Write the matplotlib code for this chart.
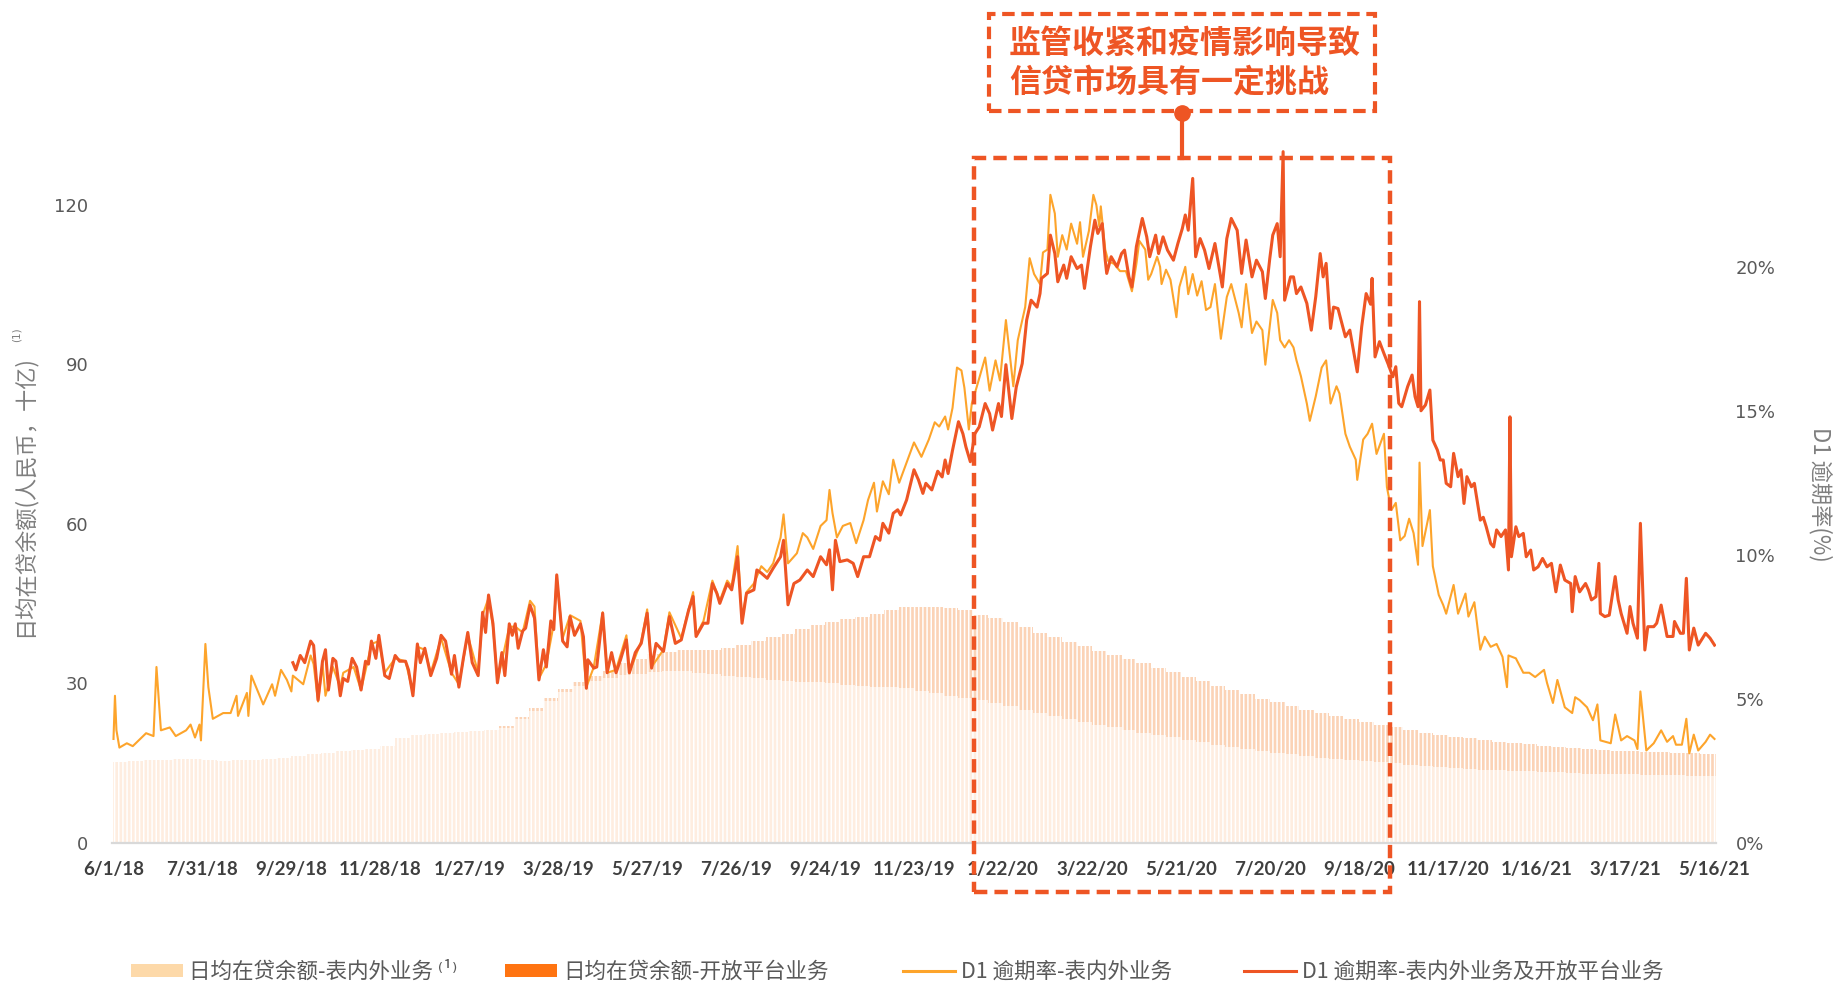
import numpy as np
import pandas as pd
import matplotlib
matplotlib.use("Agg")
import matplotlib.pyplot as plt
from matplotlib.patches import Rectangle, Patch
from matplotlib.lines import Line2D

CJK = ["Noto Sans CJK SC", "DejaVu Sans"]
plt.rcParams["font.family"] = CJK
plt.rcParams["hatch.linewidth"] = 1.1

START = pd.Timestamp("2018-06-01")

# x tick labels (every 60 days)
tick_labels = ["6/1/18", "7/31/18", "9/29/18", "11/28/18", "1/27/19", "3/28/19",
               "5/27/19", "7/26/19", "9/24/19", "11/23/19", "1/22/20", "3/22/20",
               "5/21/20", "7/20/20", "9/18/20", "11/17/20", "1/16/21", "3/17/21",
               "5/16/21"]

# daily average loan balance, RMB bn, read every 10 days from 6/1/18
bal_step = 10
bal_onbs = [15.2, 15.3, 15.5, 15.6, 15.8, 15.7, 15.5, 15.4, 15.5, 15.6,
            15.8, 16.0, 16.3, 16.6, 16.9, 17.2, 17.4, 17.7, 18.2, 19.6,
            20.2, 20.5, 20.7, 20.9, 21.0, 21.1, 21.5, 23.2, 24.8, 26.6,
            28.3, 29.5, 30.4, 31.0, 31.5, 31.8, 32.1, 32.2, 32.2, 32.0,
            31.7, 31.4, 31.2, 30.9, 30.6, 30.4, 30.3, 30.2, 30.0, 29.7,
            29.5, 29.3, 29.2, 29.0, 28.5, 28.1, 27.6, 27.2, 26.8, 26.3,
            25.7, 25.0, 24.3, 23.8, 23.2, 22.7, 22.2, 21.7, 21.2, 20.7,
            20.3, 19.8, 19.3, 18.9, 18.4, 18.0, 17.6, 17.2, 16.9, 16.6,
            16.3, 16.0, 15.8, 15.5, 15.3, 15.1, 14.9, 14.6, 14.4, 14.2,
            14.0, 13.9, 13.7, 13.6, 13.5, 13.4, 13.3, 13.2, 13.1, 13.0,
            13.0, 12.9, 12.9, 12.8, 12.8, 12.7, 12.6, 12.5, 12.5]
bal_open = [0, 0, 0, 0, 0, 0, 0, 0, 0, 0,
            0, 0, 0, 0, 0, 0, 0, 0, 0, 0,
            0, 0, 0, 0, 0, 0, 0.4, 0.5, 0.5, 0.6,
            0.6, 0.7, 0.9, 1.3, 2.2, 2.8, 3.3, 3.6, 4.0, 4.3,
            4.6, 5.3, 6.0, 7.0, 8.0, 8.8, 9.8, 10.8, 11.5, 12.4,
            12.9, 13.8, 14.6, 15.3, 15.9, 16.3, 16.6, 16.6, 16.0, 15.9,
            15.8, 15.6, 15.2, 14.8, 14.5, 14.2, 13.9, 13.6, 13.3, 13.0,
            12.6, 12.3, 11.9, 11.5, 11.1, 10.7, 10.3, 9.9, 9.5, 9.1,
            8.7, 8.3, 8.0, 7.7, 7.4, 7.1, 6.8, 6.6, 6.3, 6.1,
            5.9, 5.8, 5.6, 5.4, 5.2, 5.1, 4.9, 4.8, 4.7, 4.6,
            4.5, 4.4, 4.3, 4.2, 4.2, 4.2, 4.2, 4.2, 4.2]

# D1 delinquency rate (%), (days since 6/1/18, value)
d1_onbs_pts = [
    (0, 3.6), (1, 5.1), (2, 3.9), (4, 3.3), (9, 3.45), (13, 3.35), (18, 3.6), (22, 3.8),
    (27, 3.7), (29, 6.1), (32, 3.9), (38, 4.0), (42, 3.7), (49, 3.9), (52, 4.1), (55, 3.65),
    (58, 4.1), (59, 3.55), (62, 6.9), (64, 5.4), (67, 4.3), (74, 4.5), (79, 4.5), (83, 5.1),
    (84, 4.4), (90, 5.2), (91, 4.4), (93, 5.8), (97, 5.3), (101, 4.8), (107, 5.5), (109, 5.1),
    (113, 6.0), (117, 5.65), (120, 5.25), (121, 5.8), (128, 5.5), (133, 6.5), (135, 6.2),
    (138, 4.9), (141, 6.2), (143, 5.1), (148, 6.1), (153, 5.4), (155, 5.9), (162, 6.1),
    (167, 5.3), (171, 6.2), (174, 6.9), (179, 7.0), (183, 5.9), (190, 6.4), (197, 6.3),
    (202, 5.2), (205, 6.8), (210, 6.7), (214, 5.9), (221, 7.1), (228, 5.9), (233, 5.5),
    (239, 7.2), (246, 5.9), (249, 7.9), (253, 8.5), (256, 7.5), (259, 5.6), (267, 7.5),
    (271, 7.5), (276, 7.3), (281, 8.4), (284, 8.2), (287, 5.7), (292, 6.2), (297, 7.6),
    (299, 9.2), (303, 7.1), (308, 7.9), (315, 7.7), (319, 5.4), (324, 6.1), (330, 8.0),
    (333, 5.9), (339, 6.0), (346, 7.2), (348, 5.9), (356, 7.0), (360, 8.1), (363, 6.1),
    (371, 6.7), (375, 8.0), (383, 7.1), (391, 8.7), (393, 7.2), (398, 7.7), (404, 9.1),
    (409, 8.4), (414, 9.1), (417, 8.9), (421, 10.3), (424, 7.7), (427, 8.7), (432, 9.0),
    (437, 9.6), (441, 9.4), (445, 9.7), (450, 10.6), (452, 11.4), (455, 9.7), (461, 10.05),
    (465, 10.75), (468, 10.6), (472, 10.2), (477, 11.0), (481, 11.2), (483, 12.25),
    (485, 11.45), (488, 10.6), (492, 11.0), (497, 11.1), (501, 10.4), (506, 11.2),
    (509, 11.9), (513, 12.5), (515, 11.5), (519, 12.55), (523, 12.1), (526, 13.3),
    (530, 12.5), (535, 13.2), (540, 13.9), (545, 13.4), (550, 14.0), (554, 14.6),
    (557, 14.45), (561, 14.8), (563, 14.35), (566, 15.1), (569, 16.5), (572, 16.4),
    (574, 15.8), (577, 14.35), (579, 15.25), (583, 15.95), (588, 16.85), (591, 15.7),
    (595, 16.75), (598, 16.05), (602, 18.15), (605, 16.75), (607, 15.85), (610, 17.45),
    (615, 18.6), (618, 20.3), (621, 19.75), (625, 19.4), (627, 20.5), (630, 20.6),
    (632, 22.5), (635, 21.85), (637, 20.35), (640, 21.1), (643, 20.6), (646, 21.5),
    (650, 20.8), (652, 21.55), (654, 20.35), (658, 21.25), (661, 22.5), (663, 22.15),
    (665, 21.4), (666, 22.1), (669, 20.6), (671, 20.2), (675, 20.1), (679, 19.85),
    (683, 19.85), (687, 19.15), (690, 20.1), (692, 20.9), (696, 20.6), (698, 19.55),
    (700, 19.75), (704, 20.35), (706, 20.0), (707, 19.4), (710, 19.9), (713, 19.55),
    (717, 18.25), (719, 19.3), (723, 20.0), (725, 19.05), (728, 19.75), (731, 19.0),
    (734, 19.5), (737, 18.5), (740, 18.6), (743, 19.4), (747, 17.5), (751, 18.95),
    (754, 19.4), (759, 18.4), (761, 17.9), (764, 19.4), (768, 17.7), (771, 18.1),
    (775, 17.8), (777, 16.6), (782, 18.85), (785, 18.4), (787, 17.45), (790, 17.2),
    (793, 17.45), (796, 17.2), (798, 16.75), (801, 16.2), (805, 15.25), (807, 14.65),
    (811, 15.5), (815, 16.5), (818, 16.75), (821, 15.25), (825, 15.85), (827, 15.6),
    (831, 14.2), (834, 13.75), (838, 13.3), (839, 12.6), (843, 14.0), (846, 14.2),
    (849, 14.55), (852, 13.5), (857, 14.2), (859, 12.35), (862, 11.55), (865, 11.8),
    (868, 10.5), (871, 10.65), (874, 11.25), (877, 10.75), (880, 9.65), (881, 13.2),
    (883, 10.3), (888, 11.55), (890, 9.6), (894, 8.6), (897, 8.25), (899, 7.95),
    (904, 8.95), (907, 7.95), (912, 8.65), (914, 7.85), (918, 8.35), (922, 6.7),
    (925, 7.15), (929, 6.8), (933, 6.9), (937, 6.45), (940, 5.4), (941, 6.5), (946, 6.4),
    (951, 5.9), (955, 5.9), (959, 5.75), (965, 6.0), (967, 5.55), (971, 4.85), (974, 5.65),
    (979, 4.7), (984, 4.5), (986, 5.05), (989, 4.95), (994, 4.7), (998, 4.25), (1001, 4.8),
    (1003, 3.55), (1010, 3.45), (1013, 4.45), (1017, 3.55), (1021, 3.7), (1026, 3.55),
    (1028, 3.25), (1030, 5.25), (1034, 3.2), (1039, 3.45), (1044, 3.9), (1048, 3.5),
    (1052, 3.7), (1054, 3.4), (1058, 3.4), (1061, 4.3), (1063, 3.1), (1066, 3.75),
    (1069, 3.2), (1074, 3.5), (1077, 3.75), (1080, 3.6)]

d1_all_pts = [
    (121, 6.25), (123, 6.0), (126, 6.5), (129, 6.25), (133, 7.0), (135, 6.85), (138, 4.95),
    (141, 6.3), (143, 6.7), (145, 5.3), (148, 6.4), (150, 6.3), (153, 5.1), (155, 5.7),
    (158, 5.6), (161, 6.4), (164, 6.1), (167, 5.3), (170, 6.3), (172, 6.2), (174, 7.0),
    (177, 6.4), (179, 7.2), (183, 5.8), (186, 5.7), (190, 6.5), (193, 6.3), (197, 6.3),
    (199, 6.0), (202, 5.1), (205, 6.9), (207, 6.25), (210, 6.75), (214, 5.8), (218, 6.4),
    (221, 7.2), (224, 7.0), (228, 5.85), (230, 6.5), (233, 5.4), (236, 6.4), (239, 7.3),
    (242, 6.25), (246, 5.8), (249, 8.0), (251, 7.3), (253, 8.6), (256, 7.6), (259, 5.55),
    (262, 6.6), (264, 5.8), (267, 7.6), (269, 7.2), (271, 7.6), (273, 6.75), (276, 7.35),
    (278, 7.45), (281, 8.25), (284, 7.8), (287, 5.65), (290, 6.7), (292, 6.1), (295, 7.7),
    (297, 7.4), (299, 9.3), (303, 7.0), (306, 6.8), (308, 7.85), (311, 7.2), (315, 7.6),
    (317, 7.15), (319, 5.36), (320, 6.35), (324, 6.06), (326, 6.1), (330, 7.97), (333, 5.9),
    (336, 6.6), (339, 5.9), (342, 6.35), (346, 7.04), (348, 5.9), (352, 6.6), (356, 6.92),
    (360, 7.97), (363, 6.06), (366, 6.92), (371, 6.64), (375, 7.85), (379, 6.92),
    (383, 7.04), (388, 8.08), (391, 8.55), (393, 7.16), (398, 7.62), (401, 7.62), (404, 9.0),
    (407, 8.66), (409, 8.31), (414, 9.0), (417, 8.78), (421, 9.93), (424, 7.62), (427, 8.66),
    (432, 8.78), (434, 9.47), (437, 9.36), (441, 9.18), (445, 9.53), (450, 9.93), (452, 10.5),
    (455, 8.26), (459, 9.0), (463, 9.12), (468, 9.47), (472, 9.24), (477, 9.93), (481, 9.65),
    (483, 10.17), (485, 8.78), (487, 10.5), (490, 9.76), (495, 9.82), (499, 9.7), (502, 9.24),
    (506, 9.93), (510, 9.93), (514, 10.63), (517, 10.5), (519, 11.09), (523, 10.75),
    (526, 11.44), (529, 11.56), (531, 11.38), (535, 11.9), (540, 12.95), (543, 12.6),
    (546, 12.13), (548, 12.48), (552, 12.25), (556, 12.9), (559, 12.7), (561, 13.29),
    (563, 12.82), (566, 13.63), (570, 14.62), (573, 14.2), (575, 13.75), (578, 13.23),
    (581, 14.2), (584, 14.44), (588, 15.25), (591, 14.9), (593, 14.33), (597, 15.25),
    (599, 14.8), (602, 16.6), (606, 14.73), (609, 15.83), (613, 16.64), (616, 18.15),
    (619, 18.84), (623, 18.6), (625, 19.07), (626, 19.6), (630, 19.77), (632, 21.1),
    (635, 20.46), (637, 19.48), (641, 20.06), (643, 19.6), (646, 20.35), (650, 19.94),
    (653, 20.06), (655, 19.25), (659, 20.7), (662, 21.62), (664, 21.16), (667, 21.5),
    (669, 20.23), (670, 19.77), (673, 20.35), (677, 20.0), (680, 20.46), (682, 20.58),
    (685, 19.65), (687, 19.3), (690, 20.7), (694, 21.68), (697, 21.04), (699, 20.35),
    (703, 21.1), (705, 20.46), (708, 21.04), (711, 20.58), (715, 20.23), (718, 20.81),
    (721, 21.33), (723, 21.8), (725, 21.27), (728, 23.07), (730, 20.35), (733, 20.98),
    (736, 20.58), (739, 19.94), (743, 20.81), (748, 19.3), (751, 20.98), (754, 21.68),
    (758, 21.27), (761, 19.77), (764, 20.93), (768, 19.65), (771, 20.23), (775, 19.83),
    (777, 18.9), (780, 20.29), (782, 21.1), (785, 21.5), (787, 20.35), (789, 24.0),
    (790, 18.84), (794, 19.65), (796, 19.65), (798, 19.07), (801, 19.3), (805, 18.73),
    (808, 17.8), (811, 18.96), (814, 20.46), (816, 19.65), (818, 20.12), (821, 17.86),
    (823, 18.6), (826, 18.55), (831, 17.57), (834, 17.8), (839, 16.35), (842, 17.92),
    (845, 19.07), (848, 18.7), (849, 19.6), (851, 16.87), (854, 17.4), (857, 16.99),
    (860, 16.6), (863, 16.18), (865, 16.53), (867, 15.26), (869, 15.14), (871, 15.49),
    (873, 15.84), (876, 16.24), (878, 15.49), (880, 15.14), (881, 18.79), (882, 15.0),
    (885, 15.2), (888, 15.72), (890, 13.98), (893, 13.64), (895, 13.29), (897, 13.29),
    (899, 12.48), (902, 12.36), (904, 13.52), (907, 12.71), (909, 12.95), (911, 11.78),
    (913, 12.71), (916, 12.36), (918, 12.48), (922, 11.2), (924, 11.3), (926, 10.97),
    (929, 10.39), (931, 10.27), (933, 10.86), (936, 10.63), (939, 10.86), (941, 9.47),
    (942, 14.79), (943, 9.93), (946, 10.97), (948, 10.63), (951, 10.74), (953, 9.93),
    (956, 10.16), (958, 9.47), (961, 9.58), (964, 9.87), (967, 9.58), (970, 9.7),
    (973, 8.71), (976, 9.64), (979, 9.12), (983, 9.0), (984, 8.02), (986, 9.24),
    (989, 8.71), (993, 9.0), (995, 8.77), (997, 8.43), (1000, 8.54), (1002, 9.7),
    (1003, 7.96), (1006, 7.85), (1009, 7.9), (1013, 9.24), (1015, 8.43), (1017, 7.96),
    (1021, 7.27), (1023, 8.2), (1025, 7.62), (1028, 7.1), (1030, 11.09), (1033, 6.69),
    (1035, 7.5), (1039, 7.5), (1041, 7.62), (1044, 8.25), (1048, 7.16), (1052, 7.16),
    (1053, 7.68), (1057, 7.27), (1059, 7.27), (1061, 9.18), (1063, 6.69), (1066, 7.45),
    (1069, 6.86), (1074, 7.27), (1077, 7.1), (1080, 6.86)]

RED = "#EE5524"
ORANGE = "#FDA42B"
GREY = "#595959"

W, H = 1835, 985
fx = lambda x: x / W
fy = lambda y: 1 - y / H

fig = plt.figure(figsize=(W / 100, H / 100), dpi=100)
ax = fig.add_axes([fx(112), fy(842.6), fx(1716) - fx(112), fy(141) - fy(842.6)])

# stacked balance bars
bal_days = np.arange(len(bal_onbs)) * bal_step
ax.bar(bal_days, bal_onbs, width=bal_step, align="edge", color="#FEEDE0",
       edgecolor="white", linewidth=0, hatch="||||", zorder=1)
ax.bar(bal_days, bal_open, bottom=bal_onbs, width=bal_step, align="edge",
       color="#FBD3B6", edgecolor="white", linewidth=0, hatch="||||", zorder=1)

tick_days = [(pd.to_datetime(t, format="%m/%d/%y") - START).days for t in tick_labels]
ax.set_xlim(-1, 1081)
ax.set_ylim(0, 132)
ax.set_xticks(tick_days)
ax.set_xticklabels(tick_labels, fontsize=13.5, fontweight="bold", color="#3F3F3F",
                   family=["Lato", "DejaVu Sans"])
ax.set_yticks([0, 30, 60, 90, 120])
ax.set_yticklabels(["0", "30", "60", "90", "120"], fontsize=13, color=GREY,
                   family=["DejaVu Sans"])
ax.tick_params(axis="x", length=0, pad=13)
ax.tick_params(axis="y", length=0, pad=17)
for s in ["top", "right", "left"]:
    ax.spines[s].set_visible(False)
ax.spines["bottom"].set_color("#D9D9D9")
ax.spines["bottom"].set_linewidth(1.6)

# delinquency lines on the right axis
ax2 = ax.twinx()
od, ov = zip(*d1_onbs_pts)
rd, rv = zip(*d1_all_pts)
ax2.plot(od, ov, color=ORANGE, lw=1.5, solid_joinstyle="round", zorder=3)
ax2.plot(rd, rv, color=RED, lw=2.2, solid_joinstyle="round", zorder=4)
ax2.set_ylim(0, 24.37)
ax2.set_yticks([0, 5, 10, 15, 20])
ax2.set_yticklabels([f"{v}%" for v in [0, 5, 10, 15, 20]], fontsize=13, color=GREY,
                    family=["DejaVu Sans"])
ax2.tick_params(axis="y", length=0, pad=14)
for s in ["top", "right", "left", "bottom"]:
    ax2.spines[s].set_visible(False)

# axis titles
fig.text(fx(24), fy(496), "日均在贷余额(人民币，十亿)", rotation=90, ha="center",
         va="center", fontsize=16, color="#7F7F7F")
fig.text(fx(17), fy(335), "(1)", rotation=90, ha="center", va="center", fontsize=7.5,
         color="#7F7F7F", family=["DejaVu Sans"])
fig.text(fx(1820), fy(494), "D1 逾期率(%)", rotation=270, ha="center", va="center",
         fontsize=16, color="#7F7F7F")

# callout boxes
dash = (0, (3, 1.6))
fig.add_artist(Rectangle((fx(989), fy(111)), fx(1375) - fx(989), fy(14) - fy(111),
                         transform=fig.transFigure, fill=False, ec=RED, lw=3.0, ls=dash,
                         zorder=10))
fig.add_artist(Rectangle((fx(974), fy(892)), fx(1390) - fx(974), fy(158) - fy(892),
                         transform=fig.transFigure, fill=False, ec=RED, lw=3.2, ls=dash,
                         zorder=10))
fig.add_artist(Line2D([fx(1182), fx(1182)], [fy(113), fy(158)], transform=fig.transFigure,
                      color=RED, lw=3.0, zorder=10))
fig.add_artist(Line2D([fx(1182)], [fy(113)], transform=fig.transFigure, marker="o",
                      markersize=11, color=RED, zorder=11))
fig.text(fx(1009), fy(44), "监管收紧和疫情影响导致", fontsize=23, fontweight="bold",
         color=RED, ha="left", va="center")
fig.text(fx(1009), fy(82), "信贷市场具有一定挑战", fontsize=23, fontweight="bold",
         color=RED, ha="left", va="center")

# legend, one entry per slot
entries = [
    (Patch(facecolor="#FDD9A9", edgecolor="none"), "日均在贷余额-表内外业务 ⁽¹⁾", 131),
    (Patch(facecolor="#FF7411", edgecolor="none"), "日均在贷余额-开放平台业务", 505),
    (Line2D([], [], color=ORANGE, lw=2.2), "D1 逾期率-表内外业务", 903),
    (Line2D([], [], color=RED, lw=2.2), "D1 逾期率-表内外业务及开放平台业务", 1244),
]
for handle, label, x0 in entries:
    leg = fig.legend([handle], [label], loc="center left", bbox_to_anchor=(fx(x0), fy(972)),
                     frameon=False, fontsize=15.5, handlelength=2.4, handleheight=0.6,
                     handletextpad=0.3, borderpad=0, borderaxespad=0)
    for t in leg.get_texts():
        t.set_color(GREY)

fig.savefig("out.png", dpi=100)
